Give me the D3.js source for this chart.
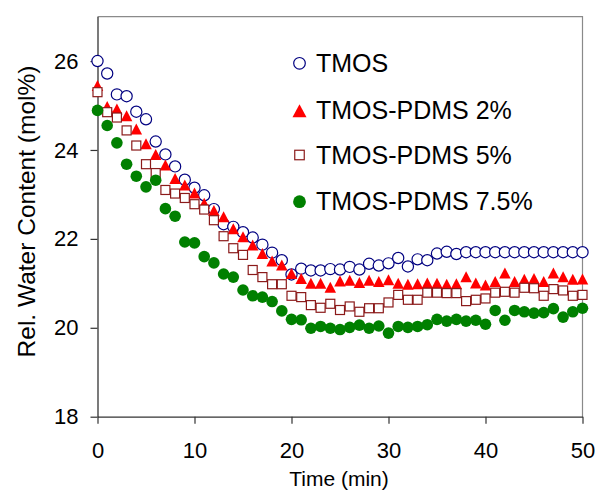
<!DOCTYPE html>
<html>
<head>
<meta charset="utf-8">
<script src="https://cdn.jsdelivr.net/npm/d3@7"></script>
<style>
  html, body { margin: 0; padding: 0; background: #fff; }
  svg { display: block; font-family: "Liberation Sans", Arial, sans-serif; }
</style>
</head>
<body>
<svg id="chart" width="596" height="493"></svg>
<script>
// Sampling times (min)
const time = [0,1,2,3,4,5,6,7,8,9,10,11,12,13,14,15,16,17,18,19,20,21,22,23,24,25,
  26,27,28,29,30,31,32,33,34,35,36,37,38,39,40,41,42,43,44,45,46,47,48,49,50];

// Relative water content (mol%) for each sample
const tmos = [26.00,25.72,25.25,25.21,24.86,24.69,24.19,23.90,23.63,23.33,23.15,22.98,22.67,22.33,22.27,22.15,
  22.03,21.87,21.69,21.52,21.20,21.33,21.29,21.29,21.32,21.31,21.37,21.31,21.44,21.40,21.45,21.57,21.38,21.54,
  21.52,21.67,21.71,21.66,21.70,21.70,21.70,21.70,21.70,21.70,21.70,21.70,21.70,21.70,21.70,21.70,21.70];
const pdms2 = [25.45,24.98,24.92,24.77,24.47,24.14,23.90,23.66,23.36,23.21,23.03,22.80,22.64,22.50,22.23,22.05,
  21.86,21.67,21.50,21.41,21.22,21.11,21.00,21.00,20.91,21.05,21.07,21.02,21.07,21.04,21.08,21.00,20.98,20.99,
  21.01,21.00,20.98,20.99,21.15,21.01,20.96,21.04,21.23,21.04,21.09,21.11,21.04,21.23,21.15,21.09,21.10];
const pdms5 = [25.30,24.85,24.73,24.44,24.10,23.68,23.48,23.10,23.02,22.92,22.78,22.66,22.42,22.06,21.79,21.64,
  21.30,21.14,20.98,20.98,20.72,20.69,20.51,20.45,20.54,20.40,20.48,20.36,20.44,20.44,20.57,20.74,20.63,20.63,
  20.79,20.79,20.78,20.78,20.60,20.63,20.66,20.79,20.81,20.79,20.90,20.89,20.72,20.87,20.84,20.72,20.74];
const pdms75 = [24.89,24.55,24.16,23.68,23.41,23.17,23.32,22.68,22.51,21.93,21.91,21.60,21.46,21.21,21.14,20.85,
  20.72,20.69,20.59,20.38,20.19,20.18,19.99,20.03,19.99,19.96,20.01,20.06,19.99,20.04,19.88,20.03,20.01,20.03,
  20.07,20.19,20.15,20.19,20.15,20.17,20.08,20.39,20.17,20.39,20.36,20.33,20.34,20.43,20.24,20.36,20.44];

const seriesNames = ["TMOS", "TMOS-PDMS 2%", "TMOS-PDMS 5%", "TMOS-PDMS 7.5%"];
const xTicks = [0, 10, 20, 30, 40, 50];
const yTicks = [18, 20, 22, 24, 26];

const svg = d3.select("#chart");
const plotLeft = 97.5, plotRight = 582.5, plotTop = 16.6, plotBottom = 416.7;

const x = d3.scaleLinear().domain([0, 50]).range([plotLeft, plotRight]);
const y = d3.scaleLinear().domain([18, 27]).range([plotBottom, plotTop]);

// Marker drawers: circle (open / filled), triangle, square
function triPath(w, h) {
  return `M0,${-h / 2}L${w / 2},${h / 2}L${-w / 2},${h / 2}Z`;
}
const styles = [
  { kind: "circle", r: 5.6, fill: "#fff", stroke: "#000080", sw: 1.2, lr: 5.8 },
  { kind: "tri", w: 11.5, h: 11, fill: "#ff0000", stroke: "none", lw: 14, lh: 13 },
  { kind: "square", s: 9, fill: "#fff", stroke: "#8b1a1a", sw: 1.2, ls: 9.5 },
  { kind: "circle", r: 5.8, fill: "#008000", stroke: "none", sw: 0, lr: 6.4 }
];

function drawMarker(g, st, legend) {
  if (st.kind === "circle") {
    g.append("circle").attr("r", legend ? st.lr : st.r)
      .attr("fill", st.fill).attr("stroke", st.stroke).attr("stroke-width", st.sw);
  } else if (st.kind === "tri") {
    g.append("path").attr("d", legend ? triPath(st.lw, st.lh) : triPath(st.w, st.h))
      .attr("fill", st.fill);
  } else {
    const s = legend ? st.ls : st.s;
    g.append("rect").attr("x", -s / 2).attr("y", -s / 2).attr("width", s).attr("height", s)
      .attr("fill", st.fill).attr("stroke", st.stroke).attr("stroke-width", st.sw);
  }
}

// Plot frame (top and right edges)
svg.append("path")
  .attr("d", `M${plotLeft},${plotTop}H${plotRight}V${plotBottom}`)
  .attr("fill", "none").attr("stroke", "#8a8a8a").attr("stroke-width", 1.2);

// Axes
const yAxis = svg.append("g").attr("transform", `translate(${plotLeft},0)`)
  .call(d3.axisLeft(y).tickValues(yTicks).tickFormat(d3.format("d")).tickSize(7).tickSizeOuter(0).tickPadding(12));
const xAxis = svg.append("g").attr("transform", `translate(0,${plotBottom})`)
  .call(d3.axisBottom(x).tickValues(xTicks).tickFormat(d3.format("d")).tickSize(7).tickSizeOuter(0).tickPadding(19));

[yAxis, xAxis].forEach(a => {
  a.select(".domain").attr("stroke", "#333").attr("stroke-width", 1.3);
  a.selectAll(".tick line").attr("stroke", "#333").attr("stroke-width", 1.2);
  a.selectAll(".tick text").attr("font-size", 22).attr("fill", "#000")
    .attr("font-family", "Liberation Sans, Arial, sans-serif");
});

// Axis titles
svg.append("text")
  .attr("x", (plotLeft + plotRight) / 2 - 1).attr("y", 486)
  .attr("text-anchor", "middle").attr("font-size", 21).text("Time (min)");
svg.append("text")
  .attr("transform", `translate(35,${211.5}) rotate(-90)`)
  .attr("text-anchor", "middle").attr("font-size", 24.5).text("Rel. Water Content (mol%)");

// Data series
const allSeries = [tmos, pdms2, pdms5, pdms75];
allSeries.forEach((vals, i) => {
  const g = svg.append("g").attr("class", "series-" + i);
  const pts = g.selectAll("g").data(time.map((t, k) => ({ t, v: vals[k] })))
    .join("g").attr("transform", d => `translate(${x(d.t)},${y(d.v)})`);
  pts.each(function () { drawMarker(d3.select(this), styles[i], false); });
});

// Legend
const legendRows = [63.3, 110.7, 155, 201.7];
seriesNames.forEach((name, i) => {
  const g = svg.append("g").attr("transform", `translate(299.5,${legendRows[i]})`);
  drawMarker(g, styles[i], true);
  g.append("text").attr("x", 16.5).attr("y", 8.5).attr("font-size", 25).text(name);
});
</script>
</body>
</html>
